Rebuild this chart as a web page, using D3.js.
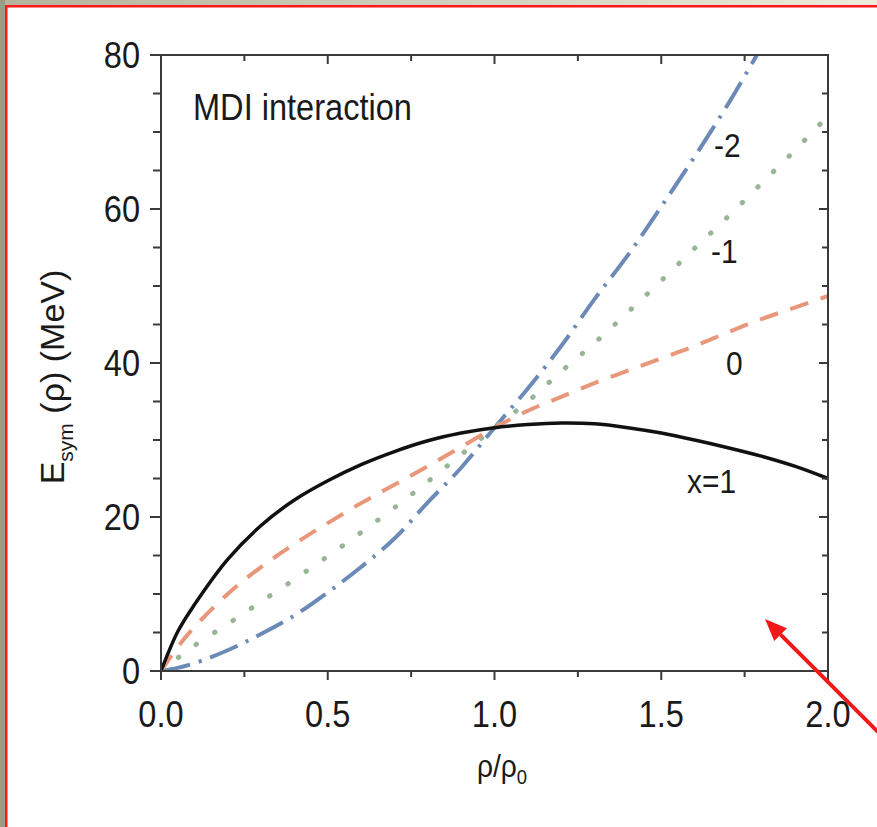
<!DOCTYPE html>
<html>
<head>
<meta charset="utf-8">
<script src="https://cdn.jsdelivr.net/npm/d3@7"></script>
<style>
  html, body { margin: 0; padding: 0; background: #fff; }
  svg { display: block; }
  text { font-family: "Liberation Sans", Arial, Helvetica, sans-serif; fill: #1a1a1a; }
</style>
</head>
<body>
<svg id="chart" width="877" height="827"></svg>
<script>
// Reduced density grid (rho / rho0)
const rho = [0, 0.05, 0.1, 0.2, 0.3, 0.4, 0.5, 0.6, 0.7, 0.8, 0.9, 1.0,
             1.1, 1.2, 1.3, 1.4, 1.5, 1.6, 1.7, 1.8, 1.9, 2.0];

// Symmetry energy E_sym (MeV) for each x parameter of the MDI interaction
const esymX1  = [0, 5.1, 8.6, 14.5, 18.9, 22.2, 24.7, 26.8, 28.5, 29.9, 30.9, 31.6,
                 32.0, 32.2, 32.1, 31.6, 30.9, 30.0, 29.0, 27.9, 26.6, 25.0];
const esymX0  = [0, 3.1, 5.7, 10.0, 13.5, 16.5, 19.2, 21.8, 24.2, 26.6, 29.1, 31.6,
                 33.8, 35.6, 37.4, 39.0, 40.6, 42.2, 44.0, 45.7, 47.2, 48.7];
const esymXm1 = [0, 1.7, 3.3, 6.1, 9.0, 11.9, 14.9, 18.0, 21.2, 24.6, 28.1, 31.6,
                 35.0, 38.9, 42.6, 46.6, 50.7, 54.9, 59.0, 63.3, 67.6, 72.1];
const esymXm2 = [0, 0.4, 1.0, 2.7, 4.8, 7.2, 10.2, 13.5, 17.2, 21.9, 26.4, 31.6,
                 36.7, 42.2, 48.3, 54.0, 60.3, 66.8, 73.6, 81.0];

const curveLabels = ["x=1", "0", "-1", "-2"];
const xTicks = [0, 0.5, 1.0, 1.5, 2.0];
const yTicks = [0, 20, 40, 60, 80];

const svg = d3.select("#chart");
const W = 877, H = 827;

// ----- page frame -----
const defs = svg.append("defs");
const grad = defs.append("linearGradient").attr("id", "bandGrad")
  .attr("x1", "0%").attr("x2", "100%").attr("y1", "0%").attr("y2", "0%");
grad.append("stop").attr("offset", "0%").attr("stop-color", "#b5b39d");
grad.append("stop").attr("offset", "100%").attr("stop-color", "#efebdc");

svg.append("rect").attr("x", 0).attr("y", 0).attr("width", W).attr("height", H).attr("fill", "#ffffff");
svg.append("rect").attr("x", 0).attr("y", 0).attr("width", W).attr("height", 5).attr("fill", "url(#bandGrad)");
svg.append("rect").attr("x", 0).attr("y", 0).attr("width", 5).attr("height", H).attr("fill", "#9c9a88");
svg.append("rect").attr("x", 5).attr("y", 5).attr("width", W).attr("height", 2.5).attr("fill", "#ff1a1a");
svg.append("rect").attr("x", 5).attr("y", 5).attr("width", 2.5).attr("height", H).attr("fill", "#ff1a1a");

// ----- scales -----
const x = d3.scaleLinear().domain([0, 2]).range([161, 828]);
const y = d3.scaleLinear().domain([0, 80]).range([671, 55]);

const SX = 0.88; // horizontal condensation of the lettering

function label(g, text, px, py, size, anchor) {
  return g.append("text")
    .attr("transform", `translate(${px},${py}) scale(${SX},1)`)
    .attr("text-anchor", anchor || "start")
    .attr("font-size", size)
    .text(text);
}

// ----- curves -----
defs.append("clipPath").attr("id", "plotClip")
  .append("rect").attr("x", x(0)).attr("y", y(80)).attr("width", x(2) - x(0)).attr("height", y(0) - y(80));

const plot = svg.append("g").attr("clip-path", "url(#plotClip)");
const line = d3.line().x(d => x(d[0])).y(d => y(d[1])).curve(d3.curveCatmullRom.alpha(0.5));

const series = [
  { vals: esymXm2, color: "#6c8ab6", width: 4, dash: "30,9,3,9", cap: "butt" },
  { vals: esymXm1, color: "#98b596", width: 5, dash: "0.5,21.5", cap: "round" },
  { vals: esymX0,  color: "#e8977a", width: 4, dash: "19,13", cap: "butt" },
  { vals: esymX1,  color: "#111111", width: 3.5, dash: null, cap: "butt" }
];
series.forEach(s => {
  const pts = s.vals.map((v, i) => [rho[i], v]);
  plot.append("path")
    .attr("d", line(pts))
    .attr("fill", "none")
    .attr("stroke", s.color)
    .attr("stroke-width", s.width)
    .attr("stroke-linecap", s.cap)
    .attr("stroke-dasharray", s.dash);
});

// ----- axes -----
const axisColor = "#3a3a3a";
const ax = svg.append("g").attr("stroke", axisColor).attr("fill", "none");

// box
ax.append("rect").attr("x", x(0)).attr("y", y(80)).attr("width", x(2) - x(0)).attr("height", y(0) - y(80))
  .attr("stroke-width", 2);

const xMinor = d3.range(0, 2.001, 0.25);
const yMinor = d3.range(0, 80.001, 5);
const isMajorX = v => Math.abs(v * 2 - Math.round(v * 2)) < 1e-6;
const isMajorY = v => v % 20 === 0;

// bottom (outward) and top (inward)
xMinor.forEach(v => {
  const len = isMajorX(v) ? 9 : 6;
  ax.append("line").attr("x1", x(v)).attr("x2", x(v)).attr("y1", y(0)).attr("y2", y(0) + len).attr("stroke-width", 2);
  ax.append("line").attr("x1", x(v)).attr("x2", x(v)).attr("y1", y(80)).attr("y2", y(80) + len).attr("stroke-width", 2);
});
// left (outward) and right (inward)
yMinor.forEach(v => {
  const len = isMajorY(v) ? 11 : 8;
  ax.append("line").attr("x1", x(0) - len).attr("x2", x(0)).attr("y1", y(v)).attr("y2", y(v)).attr("stroke-width", 2);
  ax.append("line").attr("x1", x(2) - len + 2).attr("x2", x(2)).attr("y1", y(v)).attr("y2", y(v)).attr("stroke-width", 2);
});

// tick labels
const txt = svg.append("g");
xTicks.forEach(v => label(txt, d3.format(".1f")(v), x(v), 727, 37, "middle"));
yTicks.forEach(v => label(txt, String(v), 140, y(v) + 13, 37, "end"));

// axis titles
const xt = svg.append("text")
  .attr("transform", `translate(502,777) scale(${SX},1)`)
  .attr("text-anchor", "middle").attr("font-size", 32);
xt.append("tspan").text("ρ/ρ");
xt.append("tspan").attr("font-size", 21).attr("dy", 7).text("0");

const yt = svg.append("text")
  .attr("transform", `translate(64,377) rotate(-90)`)
  .attr("text-anchor", "middle").attr("font-size", 34);
yt.append("tspan").text("E");
yt.append("tspan").attr("font-size", 21).attr("dy", 9).text("sym");
yt.append("tspan").attr("dy", -9).text(" (ρ) (MeV)");

// annotations
label(txt, "MDI interaction", 193, 120, 37, "start");
const labelPos = [[687, 493], [726, 375], [711, 263], [714, 157]];
curveLabels.forEach((t, i) => label(txt, t, labelPos[i][0], labelPos[i][1], 34, "start"));

// red pointer arrow
const tip = [765, 619];
const tail = [910, 764];
const ang = Math.atan2(tail[1] - tip[1], tail[0] - tip[0]);
const headLen = 22, headHalf = 9;
const bx = tip[0] + headLen * Math.cos(ang), by = tip[1] + headLen * Math.sin(ang);
svg.append("line")
  .attr("x1", bx).attr("y1", by).attr("x2", tail[0]).attr("y2", tail[1])
  .attr("stroke", "#f01818").attr("stroke-width", 4);
svg.append("path")
  .attr("d", `M${tip[0]},${tip[1]} L${bx - headHalf * Math.sin(ang)},${by + headHalf * Math.cos(ang)} L${bx + headHalf * Math.sin(ang)},${by - headHalf * Math.cos(ang)} Z`)
  .attr("fill", "#f01818");
</script>
</body>
</html>
